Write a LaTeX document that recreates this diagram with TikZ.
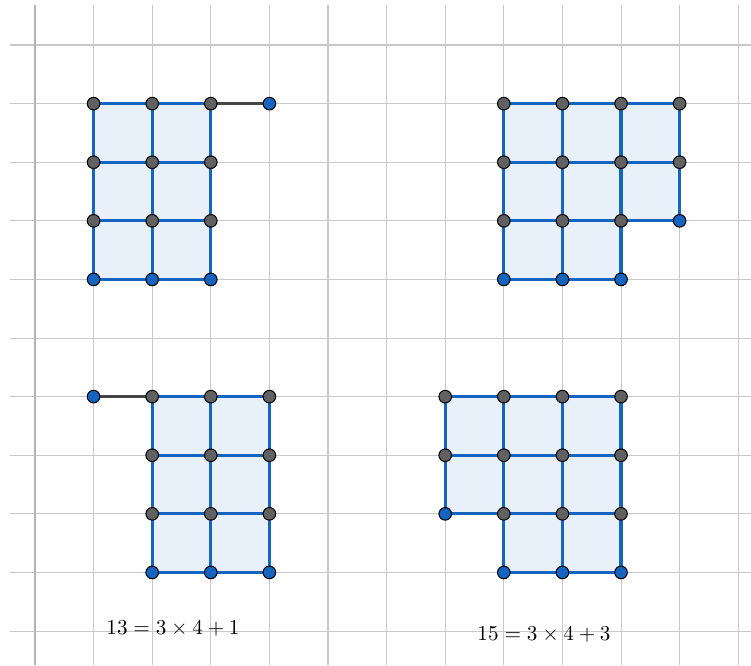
\documentclass[tikz,border=0pt]{standalone}
\usetikzlibrary{calc}
\definecolor{gridc}{HTML}{C8C8C8}
\definecolor{axisc}{HTML}{B4B4B4}
\definecolor{gblue}{HTML}{1565C0}
\definecolor{gfill}{HTML}{E8F0FA}
\definecolor{ggray}{HTML}{616161}
\definecolor{gdark}{HTML}{444444}
\tikzset{
  gridline/.style={draw=gridc, line width=0.5pt},
  axisline/.style={draw=axisc, line width=0.9pt},
  region/.style={fill=gfill, draw=none},
  edge/.style={draw=gblue, line width=1.55pt},
  tailseg/.style={draw=gdark, line width=1.55pt},
  dotbase/.style={circle, draw=black, line width=0.5pt, inner sep=0pt, minimum size=0.215cm},
  graydot/.style={dotbase, fill=ggray},
  bluedot/.style={dotbase, fill=gblue},
  eqlabel/.style={font=\normalsize, scale=1.03}
}
\begin{document}
\begin{tikzpicture}
\useasboundingbox (-0.597,-0.580) rectangle (12.218,10.768);
% grid
\foreach \i in {1,...,12} \draw[gridline] (\i,-0.58) -- (\i,10.683);
\foreach \j in {0,...,10} \draw[gridline] (-0.427,\j) -- (12.218,\j);
\draw[axisline] (0,-0.58) -- (0,10.683);
% named grid points
\foreach \i in {0,...,12} \foreach \j in {0,...,10} \coordinate (p-\i-\j) at (\i,\j);
% regions
\path[region] (p-1-6) rectangle (p-3-9);
\path[region] (p-8-6) -- (p-10-6) -- (p-10-7) -- (p-11-7) -- (p-11-9) -- (p-8-9) -- cycle;
\path[region] (p-2-1) rectangle (p-4-4);
\path[region] (p-7-2) -- (p-8-2) -- (p-8-1) -- (p-10-1) -- (p-10-4) -- (p-7-4) -- cycle;
% figure 1
\foreach \j in {6,...,9} \draw[edge] (p-1-\j) -- (p-3-\j);
\foreach \i in {1,...,3} \draw[edge] (p-\i-6) -- (p-\i-9);
\draw[tailseg] (p-3-9) -- (p-4-9);
% figure 2
\foreach \j in {7,...,9} \draw[edge] (p-8-\j) -- (p-11-\j);
\draw[edge] (p-8-6) -- (p-10-6);
\foreach \i in {8,...,10} \draw[edge] (p-\i-6) -- (p-\i-9);
\draw[edge] (p-11-7) -- (p-11-9);
% figure 3
\foreach \j in {1,...,4} \draw[edge] (p-2-\j) -- (p-4-\j);
\foreach \i in {2,...,4} \draw[edge] (p-\i-1) -- (p-\i-4);
\draw[tailseg] (p-1-4) -- (p-2-4);
% figure 4
\foreach \j in {2,...,4} \draw[edge] (p-7-\j) -- (p-10-\j);
\draw[edge] (p-8-1) -- (p-10-1);
\foreach \i in {8,...,10} \draw[edge] (p-\i-1) -- (p-\i-4);
\draw[edge] (p-7-2) -- (p-7-4);
% dots figure 1
\foreach \i in {1,...,3} \foreach \j in {7,...,9} \node[graydot] (d-\i-\j) at (p-\i-\j) {};
\foreach \i in {1,...,3} \node[bluedot] (d-\i-6) at (p-\i-6) {};
\node[bluedot] (d-4-9) at (p-4-9) {};
% dots figure 2
\foreach \i in {8,...,11} \foreach \j in {8,9} \node[graydot] (d-\i-\j) at (p-\i-\j) {};
\foreach \i in {8,...,10} \node[graydot] (d-\i-7) at (p-\i-7) {};
\node[bluedot] (d-11-7) at (p-11-7) {};
\foreach \i in {8,...,10} \node[bluedot] (d-\i-6) at (p-\i-6) {};
% dots figure 3
\foreach \i in {2,...,4} \foreach \j in {2,...,4} \node[graydot] (d-\i-\j) at (p-\i-\j) {};
\foreach \i in {2,...,4} \node[bluedot] (d-\i-1) at (p-\i-1) {};
\node[bluedot] (d-1-4) at (p-1-4) {};
% dots figure 4
\foreach \i in {7,...,10} \foreach \j in {3,4} \node[graydot] (d-\i-\j) at (p-\i-\j) {};
\foreach \i in {8,...,10} \node[graydot] (d-\i-2) at (p-\i-2) {};
\node[bluedot] (d-7-2) at (p-7-2) {};
\foreach \i in {8,...,10} \node[bluedot] (d-\i-1) at (p-\i-1) {};
% labels
\node[eqlabel] (eq1) at (2.355,0.05) {$13=3\times4+1$};
\node[eqlabel] (eq2) at (8.686,-0.068) {$15=3\times4+3$};
\end{tikzpicture}
\end{document}
